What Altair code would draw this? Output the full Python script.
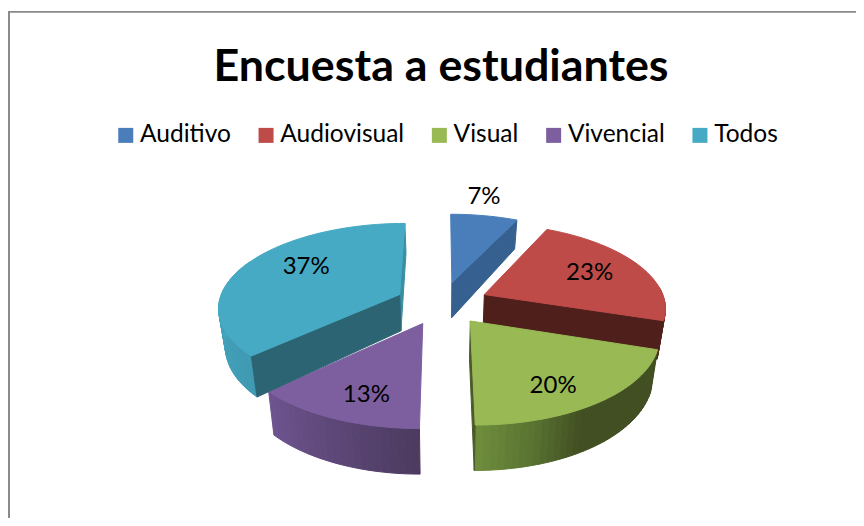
import math
import altair as alt

categories = ["Auditivo", "Audiovisual", "Visual", "Vivencial", "Todos"]
values = [7, 23, 20, 13, 37]
top_colors = ["#4a7ebb", "#be4b48", "#98b954", "#7d5fa0", "#46aac4"]
title_text = "Encuesta a estudiantes"

# label placement relative to each slice apex (radius, clockwise angle from 12 o'clock)
label_radius = [233, 120, 131, 131, 119]
label_angle = [9.5, 64, 149.5, 200.5, 303.5]

# view of the tilted pie
CX, CY, SX, B, K, R, EXPLODE = 442.0, 303.0, 1.04, 0.48, 0.00082, 174.0, 45.0
OFF = 8  # page margin

edges = [0.0]
for val in values:
    edges.append(edges[-1] + val * 3.6)
mids = [(edges[i] + edges[i + 1]) / 2 for i in range(5)]
apex = [(EXPLODE * math.sin(math.radians(m)), -EXPLODE * math.cos(math.radians(m))) for m in mids]


def ground(i, theta, r=R):
    t = math.radians(theta)
    return apex[i][0] + r * math.sin(t), apex[i][1] - r * math.cos(t)


def proj_top(u, v):
    den = 1 - K * v
    return [CX + SX * u / den, CY + B * v / den]


def proj_bot(u, v):
    x, y = proj_top(u, v)
    return [CX + (x - CX) * 0.97, y + 37 + 0.04 * v]


def mix(stops, a):
    stops = sorted(stops)
    if a <= stops[0][0]:
        return stops[0][1]
    for (a0, c0), (a1, c1) in zip(stops, stops[1:]):
        if a <= a1:
            f = (a - a0) / (a1 - a0)
            p = [int(c0[j:j + 2], 16) for j in (1, 3, 5)]
            q = [int(c1[j:j + 2], 16) for j in (1, 3, 5)]
            return "#%02x%02x%02x" % tuple(round(p[n] + (q[n] - p[n]) * f) for n in range(3))
    return stops[-1][1]


features = []


def poly(points, fill):
    ring = [list(p) for p in points] + [list(points[0])]
    features.append({"type": "Feature", "properties": {"fill": fill},
                     "geometry": {"type": "Polygon", "coordinates": [ring]}})


def top_face(i):
    a0, a1 = edges[i], edges[i + 1]
    n = max(2, int((a1 - a0) / 2))
    pts = [proj_top(*apex[i])]
    pts += [proj_top(*ground(i, a0 + (a1 - a0) * s / n)) for s in range(n + 1)]
    poly(pts, top_colors[i])


def radial(i, theta, fill):
    g = ground(i, theta)
    poly([proj_top(*apex[i]), proj_top(*g), proj_bot(*g), proj_bot(*apex[i])], fill)


def outer(i, a0, a1, stops):
    n = max(1, int(abs(a1 - a0) / 2))
    for s in range(n):
        t0 = a0 + (a1 - a0) * s / n
        t1 = a0 + (a1 - a0) * (s + 1) / n
        g0, g1 = ground(i, t0), ground(i, t1)
        poly([proj_top(*g0), proj_top(*g1), proj_bot(*g1), proj_bot(*g0)], mix(stops, (t0 + t1) / 2))


# back to front
radial(0, edges[1], "#36608f")
top_face(0)
outer(1, 85, edges[2], [(85, "#7a2f2d"), (108, "#5a2320")])
radial(1, edges[2], "#4f1f1c")
top_face(1)
outer(3, edges[3], edges[4], [(180, "#4c3a5f"), (200, "#5a4574"), (227, "#6f5490")])
top_face(3)
radial(4, edges[5], "#3a8ea3")
outer(4, edges[4], 295, [(227, "#3f9ab2"), (295, "#46aac4")])
radial(4, edges[4], "#2c6474")
top_face(4)
outer(2, edges[2], edges[3], [(108, "#414f22"), (150, "#414f22"), (165, "#5a7431"), (180, "#6f8e3d")])
radial(2, edges[3], "#4a5a28")
top_face(2)

labels = []
for i in range(5):
    x, y = proj_top(*ground(i, label_angle[i], label_radius[i]))
    labels.append({"x": x - OFF + 1, "y": y - OFF + 0.5, "text": f"{values[i]}%"})

legend_rows = [{"cat": c, "val": v} for c, v in zip(categories, values)]

faces = alt.Chart(alt.InlineData(values=features, format=alt.DataFormat(type="json"))).mark_geoshape(
    strokeWidth=1
).encode(
    fill=alt.Fill("properties.fill:N", scale=None),
    stroke=alt.Stroke("properties.fill:N", scale=None),
).project(type="identity", scale=1, translate=[-OFF, -OFF])

legend_layer = alt.Chart(alt.Data(values=legend_rows)).mark_square(size=0).encode(
    color=alt.Color(
        "cat:N",
        sort=categories,
        scale=alt.Scale(domain=categories, range=top_colors),
        legend=alt.Legend(
            title=None, orient="none", legendX=105.5, legendY=115, columns=5,
            symbolType="square", symbolSize=225, symbolStrokeWidth=0, symbolOpacity=1,
            labelFont="Lato", labelFontSize=24.5, labelColor="#000000",
            labelOffset=2, columnPadding=22.3, labelLimit=300, padding=0,
        ),
    ),
)

texts = alt.Chart(alt.Data(values=labels)).mark_text(
    font="Lato", fontSize=24, color="#000000", align="center", baseline="middle", dy=1
).encode(
    x=alt.X("x:Q", scale=None, axis=None),
    y=alt.Y("y:Q", scale=None, axis=None),
    text="text:N",
)

frame_v = alt.Chart(alt.Data(values=[{"a": 0}])).mark_rule(color="#8a8a8a", strokeWidth=2).encode(
    x=alt.value(1), y=alt.value(3), y2=alt.value(510)
)
frame_h = alt.Chart(alt.Data(values=[{"a": 0}])).mark_rule(color="#8a8a8a", strokeWidth=1.7).encode(
    x=alt.value(0), x2=alt.value(848), y=alt.value(3.8)
)

chart = alt.layer(frame_v, frame_h, faces, legend_layer, texts).properties(
    width=848,
    height=510,
    padding=0,
    autosize="none",
    title=alt.TitleParams(
        text=title_text, anchor="middle", offset=-83, dx=9,
        font="Lato", fontSize=44.8, fontWeight="bold", color="#000000",
    ),
).configure_view(stroke=None)

chart.save("out.html", embed_options={"renderer": "svg", "actions": False})
